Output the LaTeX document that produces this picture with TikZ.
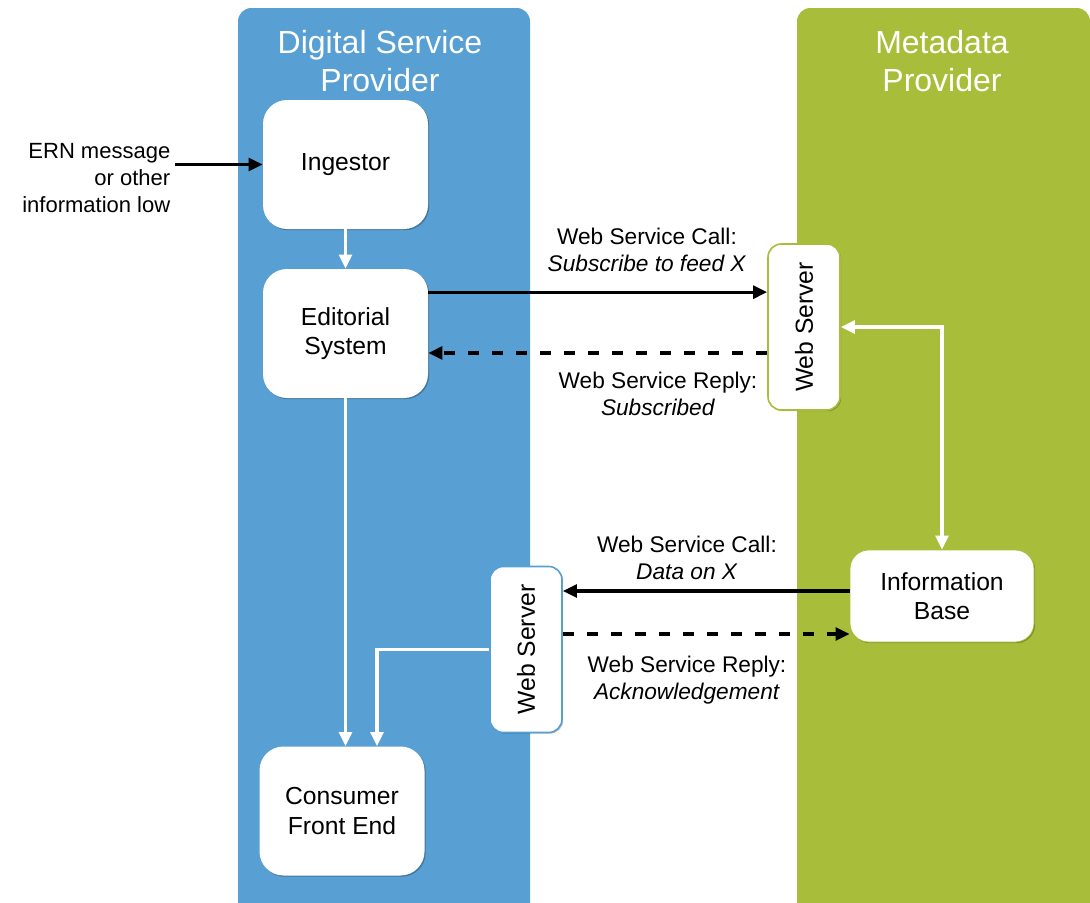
\documentclass[tikz,border=0pt]{standalone}
\usepackage{fontspec}
\setmainfont{Liberation Sans}
\usetikzlibrary{calc, arrows.meta, shadows}
\definecolor{dspblue}{RGB}{88,159,211}
\definecolor{mdpgreen}{RGB}{168,190,58}
\tikzset{
  soft/.style={drop shadow={shadow xshift=0.9pt, shadow yshift=-0.9pt, opacity=0.25, fill=black}},
  box/.style={fill=white, rounded corners=18pt, minimum width=123.75pt, minimum height=96.75pt,
    align=center, font=\fontsize{18.5}{22}\selectfont, soft},
  server/.style={fill=white, draw, line width=1.2pt, rounded corners=10pt, minimum width=54pt,
    minimum height=124.5pt, font=\fontsize{18.5}{22}\selectfont, soft},
  lbl/.style={align=center, font=\fontsize{17}{20}\selectfont},
  title/.style={text=white, align=center, font=\fontsize{24}{28.5}\selectfont},
  flow/.style={line width=2.5pt, ->, >={Triangle[length=10.5pt,width=9.5pt]}},
  whiteflow/.style={flow, white},
  gapline/.style={dash pattern=on 8.5pt off 9.5pt},
}
\begin{document}
\begin{tikzpicture}[x=0.75pt, y=-0.75pt]
  \useasboundingbox (0,0) rectangle (1090,903);
  % columns
  \fill[dspblue, rounded corners=10pt] (238,903) -- (238,8) -- (530,8) -- (530,903);
  \fill[mdpgreen, rounded corners=10pt] (797,903) -- (797,8) -- (1090,8) -- (1090,903);
  \node[title] (dsp) at (380,61) {Digital Service\\Provider};
  \node[title] (mdp) at (942,61) {Metadata\\Provider};

  % boxes
  \node[box] (ing) at (345.5,164.5) {Ingestor};
  \node[box] (edi) at (345.5,333.5) {Editorial\\System};
  \node[box] (con) at (342,811) {Consumer\\Front End};
  \node[server, draw=mdpgreen] (wsr) at (804,327) {\rotatebox{90}{Web Server}};
  \node[server, draw=dspblue] (wsl) at (526,649.5) {\rotatebox{90}{Web Server}};
  \node[box, draw=mdpgreen, line width=0.6pt, minimum width=138pt, minimum height=69pt,
    rounded corners=14pt] (info) at (942,596) {Information\\Base};

  \node[lbl, align=right, anchor=east, font=\fontsize{16.5}{20.5}\selectfont] (ern) at (175,178) {ERN message\\or other\\information low};

  % flows
  \draw[flow] (ern.east |- ing.west) -- (ing.west);
  \draw[whiteflow] (ing) -- (edi);
  \draw[flow] ([yshift=31pt]edi.east) -- ([yshift=31pt]edi.east -| wsr.west);
  \draw[flow, gapline] ([yshift=-14.6pt]edi.east -| wsr.west) -- ([yshift=-14.6pt]edi.east);
  \draw[whiteflow, <->] (wsr.east) -| (info.north);
  \draw[flow] ([yshift=3.75pt]info.west) -- ([yshift=3.75pt]info.west -| wsl.east);
  \draw[flow, gapline] ([yshift=-28.5pt]info.west -| wsl.east) -- ([yshift=-28.5pt]info.west);
  \draw[whiteflow] (edi.south) -- (edi.south |- con.north);
  \draw[whiteflow] (wsl.west) -| ([xshift=26.25pt]con.north);

  % labels
  \node[lbl] (call1) at (647,250) {Web Service Call:\\\textit{Subscribe to feed X}};
  \node[lbl] (reply1) at (658,394) {Web Service Reply:\\\textit{Subscribed}};
  \node[lbl] (call2) at (687,558) {Web Service Call:\\\textit{Data on X}};
  \node[lbl] (reply2) at (687,680) {Web Service Reply:\\\textit{Acknowledgement}};
\end{tikzpicture}
\end{document}
